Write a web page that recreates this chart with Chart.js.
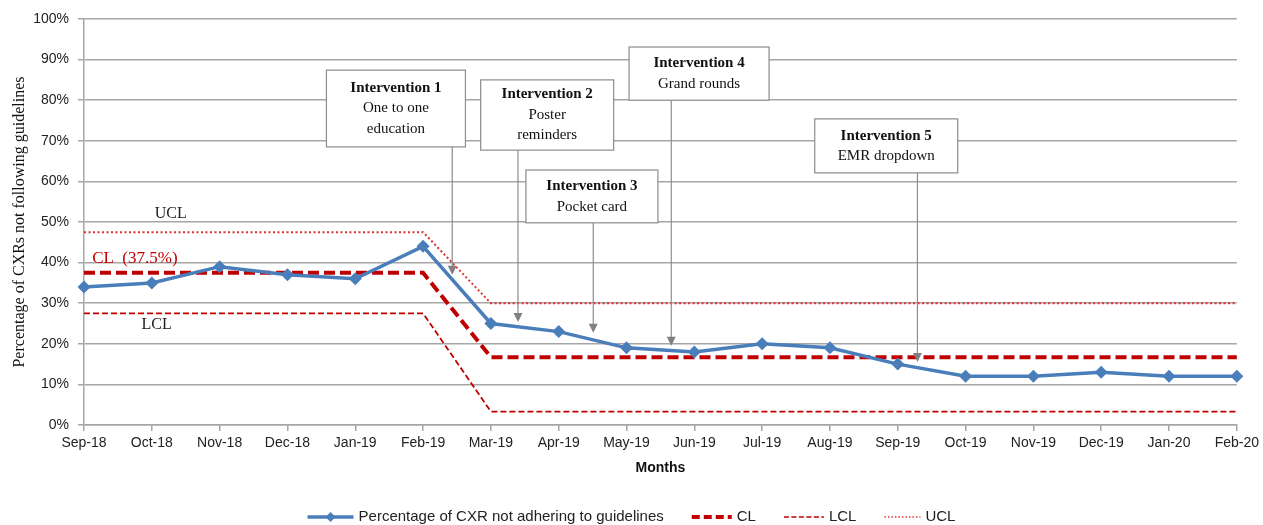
<!DOCTYPE html>
<html>
<head>
<meta charset="utf-8">
<script src="https://cdn.jsdelivr.net/npm/chart.js@4.4.1/dist/chart.umd.min.js"></script>
<style>
  html, body { margin: 0; padding: 0; background: #fff; }
  #wrap { width: 1263px; height: 525px; position: relative; }
</style>
</head>
<body>
<div id="wrap"><canvas id="spc"></canvas></div>
<script>
const months = ["Sep-18", "Oct-18", "Nov-18", "Dec-18", "Jan-19", "Feb-19", "Mar-19", "Apr-19", "May-19",
  "Jun-19", "Jul-19", "Aug-19", "Sep-19", "Oct-19", "Nov-19", "Dec-19", "Jan-20", "Feb-20"];
const pctNotAdhering = [34, 35, 39, 37, 36, 44, 25, 23, 19, 18, 20, 19, 15, 12, 12, 13, 12, 12];
const clValues = [37.5, 37.5, 37.5, 37.5, 37.5, 37.5, 16.7, 16.7, 16.7, 16.7, 16.7, 16.7, 16.7, 16.7, 16.7, 16.7, 16.7, 16.7];
const lclValues = [27.5, 27.5, 27.5, 27.5, 27.5, 27.5, 3.3, 3.3, 3.3, 3.3, 3.3, 3.3, 3.3, 3.3, 3.3, 3.3, 3.3, 3.3];
const uclValues = [47.5, 47.5, 47.5, 47.5, 47.5, 47.5, 30, 30, 30, 30, 30, 30, 30, 30, 30, 30, 30, 30];
const yTicks = [0, 10, 20, 30, 40, 50, 60, 70, 80, 90, 100];

// intervention boxes: month position (fractional index) of box centre and arrow, value where arrow points
const interventions = [
  { title: "Intervention 1", lines: ["One to one", "education"], at: 4.60, top: 87.4, bottom: 68.5, w: 139, arrowAt: 5.43, arrowTo: 37 },
  { title: "Intervention 2", lines: ["Poster", "reminders"], at: 6.83, top: 85.0, bottom: 67.7, w: 133, arrowAt: 6.40, arrowTo: 25.4 },
  { title: "Intervention 3", lines: ["Pocket card"], at: 7.49, top: 62.8, bottom: 49.8, w: 132, arrowAt: 7.51, arrowTo: 22.7 },
  { title: "Intervention 4", lines: ["Grand rounds"], at: 9.07, top: 93.1, bottom: 80.0, w: 140, arrowAt: 8.66, arrowTo: 19.5 },
  { title: "Intervention 5", lines: ["EMR dropdown"], at: 11.83, top: 75.4, bottom: 62.1, w: 143, arrowAt: 12.29, arrowTo: 15.5 }
];

const sansFont = "'Liberation Sans Narrow', 'Arial Narrow', 'Liberation Sans', sans-serif";
const serifFont = "'Liberation Serif', 'Times New Roman', serif";
const blue = "#4a7ebb";
const darkRed = "#c00000";
const gridGray = "#a6a6a6";

const annotations = {
  id: "annotations",
  afterDatasetsDraw(chart) {
    const { ctx, scales: { x, y } } = chart;
    ctx.save();
    // control limit labels
    ctx.textBaseline = "middle";
    ctx.font = "16px " + serifFont;
    ctx.fillStyle = "#222";
    ctx.textAlign = "center";
    ctx.fillText("UCL", x.getPixelForValue(1.28), y.getPixelForValue(52));
    ctx.fillText("LCL", x.getPixelForValue(1.07), y.getPixelForValue(24.6));
    ctx.fillStyle = darkRed;
    ctx.textAlign = "left";
    ctx.font = "17px " + serifFont;
    ctx.fillText("CL  (37.5%)", x.getPixelForValue(0.12), y.getPixelForValue(41));

    interventions.forEach(iv => {
      const cx = x.getPixelForValue(iv.at);
      const top = y.getPixelForValue(iv.top);
      const bottom = y.getPixelForValue(iv.bottom);
      // arrow
      const ax = x.getPixelForValue(iv.arrowAt);
      const tip = y.getPixelForValue(iv.arrowTo);
      ctx.strokeStyle = "#8c8c8c";
      ctx.lineWidth = 1.2;
      ctx.beginPath();
      ctx.moveTo(ax, bottom);
      ctx.lineTo(ax, tip - 8);
      ctx.stroke();
      ctx.fillStyle = "#808080";
      ctx.beginPath();
      ctx.moveTo(ax - 4.5, tip - 9);
      ctx.lineTo(ax + 4.5, tip - 9);
      ctx.lineTo(ax, tip);
      ctx.closePath();
      ctx.fill();
      // box
      ctx.fillStyle = "#fff";
      ctx.fillRect(cx - iv.w / 2, top, iv.w, bottom - top);
      ctx.strokeStyle = "#8c8c8c";
      ctx.lineWidth = 1.2;
      ctx.strokeRect(cx - iv.w / 2, top, iv.w, bottom - top);
      // text
      const n = iv.lines.length + 1;
      const lh = 20.5;
      const startY = (top + bottom) / 2 - (n - 1) * lh / 2;
      ctx.textAlign = "center";
      ctx.fillStyle = "#111";
      ctx.font = "bold 15px " + serifFont;
      ctx.fillText(iv.title, cx, startY);
      ctx.font = "15px " + serifFont;
      iv.lines.forEach((t, i) => ctx.fillText(t, cx, startY + (i + 1) * lh));
    });
    ctx.restore();
  }
};

const bottomLegend = {
  id: "bottomLegend",
  afterDraw(chart) {
    const { ctx } = chart;
    const items = [
      { text: "Percentage of CXR not adhering to guidelines", color: blue, width: 3.5, dash: [], marker: true, sample: 46 },
      { text: "CL", color: darkRed, width: 4, dash: [8, 4], sample: 40 },
      { text: "LCL", color: darkRed, width: 1.5, dash: [5, 2.5], sample: 40 },
      { text: "UCL", color: "#e03030", width: 1.5, dash: [1.5, 2], sample: 36 }
    ];
    ctx.save();
    ctx.font = "15px " + sansFont;
    const gap = 28;
    const total = items.reduce((s, it) => s + it.sample + 5 + ctx.measureText(it.text).width, 0) + gap * (items.length - 1);
    let px = (chart.width - total) / 2;
    const py = 517;
    items.forEach(it => {
      ctx.strokeStyle = it.color;
      ctx.lineWidth = it.width;
      ctx.setLineDash(it.dash);
      ctx.beginPath();
      ctx.moveTo(px, py);
      ctx.lineTo(px + it.sample, py);
      ctx.stroke();
      ctx.setLineDash([]);
      if (it.marker) {
        const mx = px + it.sample / 2;
        ctx.fillStyle = it.color;
        ctx.beginPath();
        ctx.moveTo(mx, py - 5);
        ctx.lineTo(mx + 5, py);
        ctx.lineTo(mx, py + 5);
        ctx.lineTo(mx - 5, py);
        ctx.closePath();
        ctx.fill();
      }
      px += it.sample + 5;
      ctx.fillStyle = "#222";
      ctx.textAlign = "left";
      ctx.textBaseline = "middle";
      ctx.fillText(it.text, px, py);
      px += ctx.measureText(it.text).width + gap;
    });
    ctx.restore();
  }
};

new Chart(document.getElementById("spc"), {
  type: "line",
  data: {
    labels: months,
    datasets: [
      { label: "UCL", data: uclValues, borderColor: "#e03030", borderWidth: 2, borderDash: [2, 2.5], pointRadius: 0, tension: 0, order: 4 },
      { label: "LCL", data: lclValues, borderColor: darkRed, borderWidth: 1.8, borderDash: [6, 3], pointRadius: 0, tension: 0, order: 3 },
      { label: "CL", data: clValues, borderColor: darkRed, borderWidth: 4, borderDash: [11, 5], pointRadius: 0, tension: 0, order: 2 },
      {
        label: "Percentage of CXR not adhering to guidelines", data: pctNotAdhering,
        borderColor: blue, backgroundColor: blue, borderWidth: 3.5, tension: 0,
        pointStyle: "rectRot", pointRadius: 6.5, pointBorderWidth: 0, order: 1
      }
    ]
  },
  options: {
    responsive: true,
    maintainAspectRatio: false,
    animation: false,
    layout: { padding: { top: 19, right: 23, bottom: 48, left: 0 } },
    plugins: { legend: { display: false }, tooltip: { enabled: false } },
    scales: {
      x: {
        type: "category",
        offset: false,
        grid: { drawOnChartArea: false, drawTicks: true, tickLength: 6, color: gridGray, lineWidth: 1.5 },
        border: { color: gridGray, width: 1.5 },
        ticks: { color: "#222", font: { family: sansFont, size: 14 }, maxRotation: 0, autoSkip: false, padding: 4 },
        title: { display: true, text: "Months", color: "#111", font: { family: sansFont, size: 14, weight: "bold" }, padding: { top: 4, bottom: 0 } },
        afterFit(scale) { scale.height = 52; }
      },
      y: {
        min: 0,
        max: 100,
        afterBuildTicks(scale) { scale.ticks = yTicks.map(v => ({ value: v })); },
        grid: { color: gridGray, lineWidth: 1.5, tickLength: 6 },
        border: { color: gridGray, width: 1.5 },
        ticks: { color: "#222", font: { family: sansFont, size: 14 }, padding: 9, callback: v => v + "%" },
        title: { display: true, text: "Percentage of CXRs not following guidelines", color: "#111", font: { family: serifFont, size: 16 }, padding: { top: 10, bottom: 4 } },
        afterFit(scale) { scale.width = 84; }
      }
    }
  },
  plugins: [annotations, bottomLegend]
});
</script>
</body>
</html>
